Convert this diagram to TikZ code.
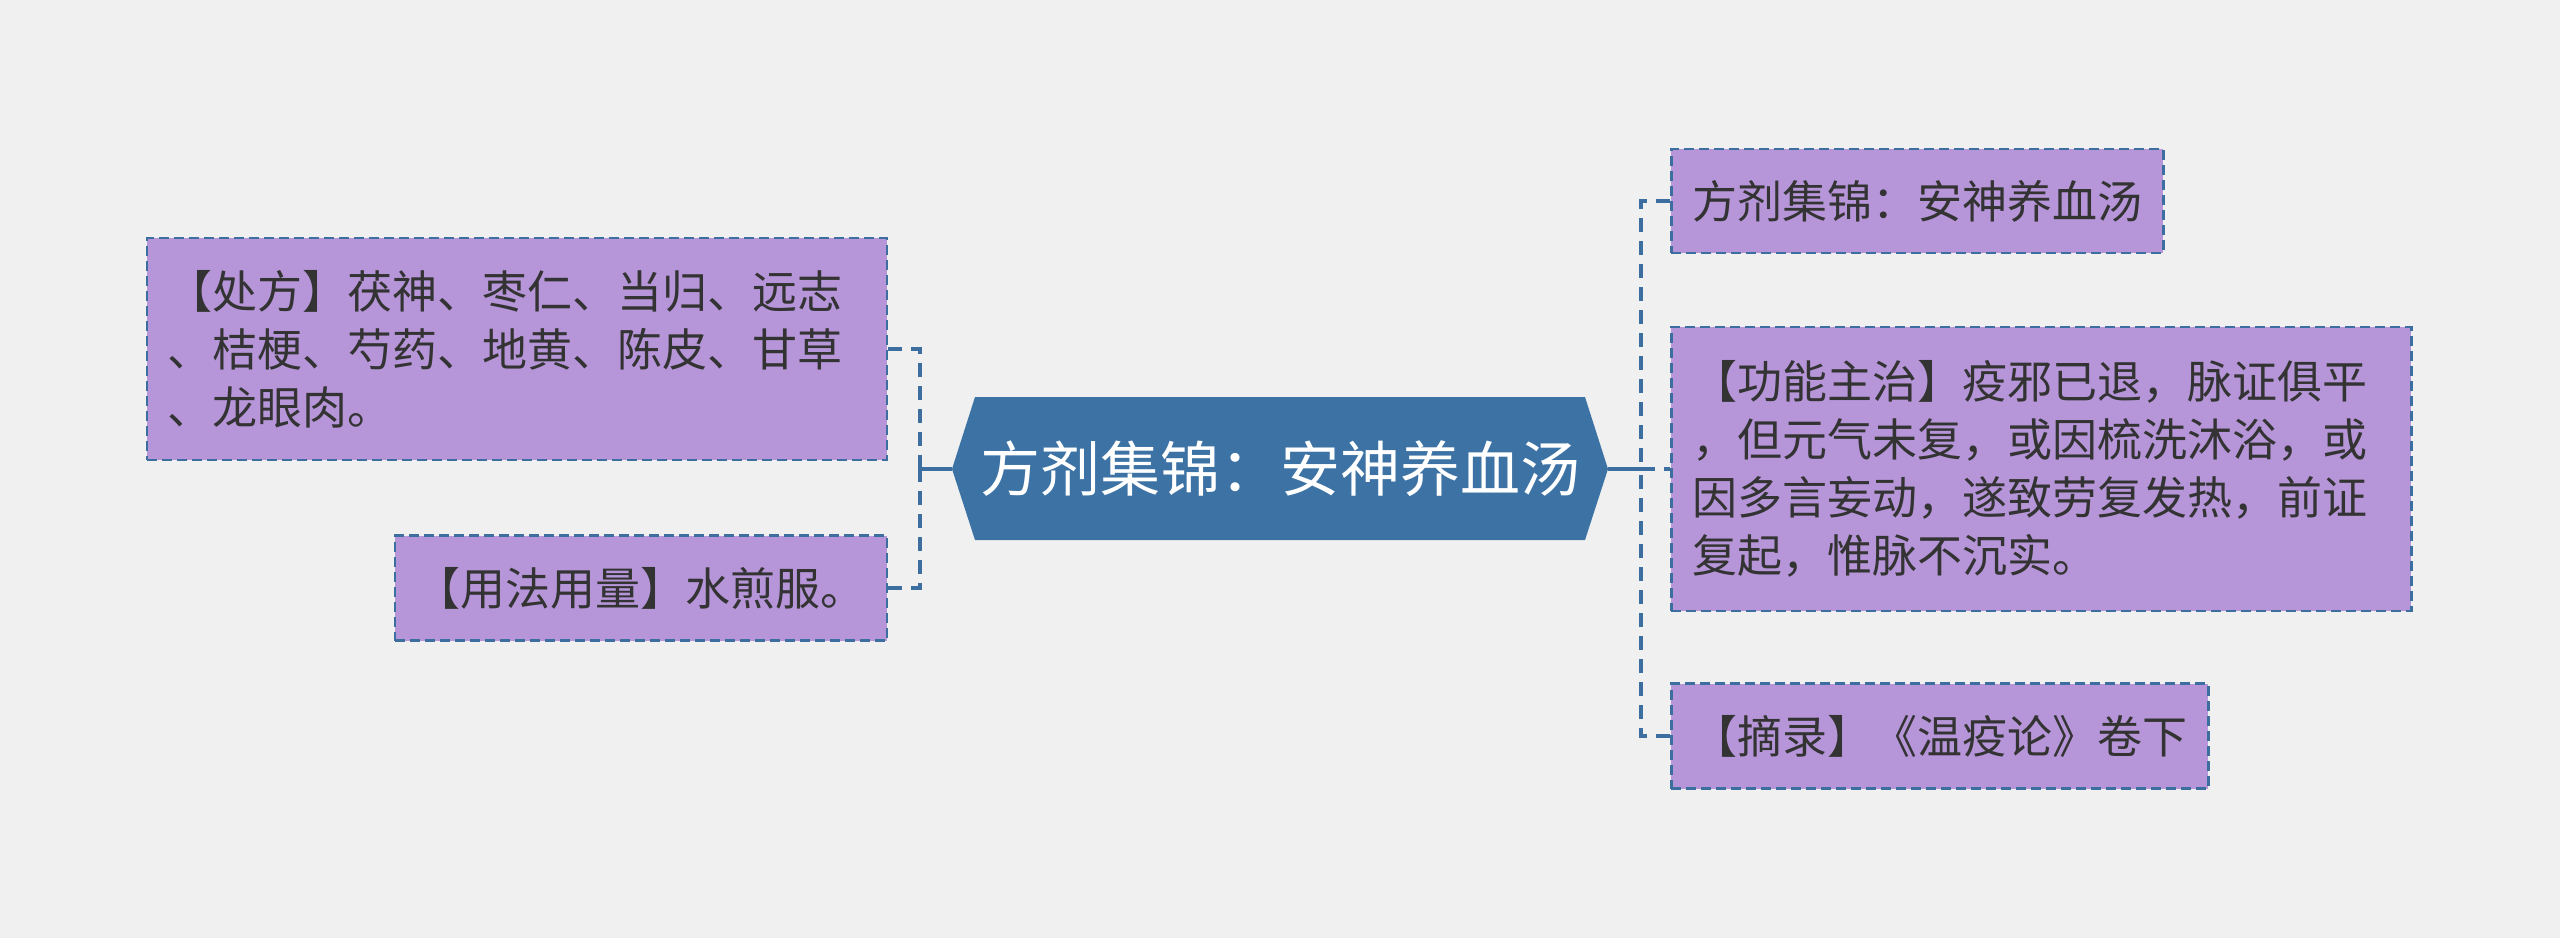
\documentclass[tikz,border=0pt]{standalone}
\usepackage{fontspec}
\setmainfont{Noto Sans CJK SC}
\usetikzlibrary{calc}
\definecolor{bgc}{HTML}{F0F0F0}
\definecolor{boxfill}{HTML}{B696D9}
\definecolor{boxline}{HTML}{3C6E9F}
\definecolor{hexfill}{HTML}{3D72A4}
\definecolor{txt}{HTML}{333333}
\tikzset{
  leaf/.style={rectangle, fill=boxfill, draw=boxline, line width=2.5pt,
    dash pattern=on 10pt off 5pt, inner xsep=21pt, inner ysep=0pt,
    align=left, text=txt, font=\fontsize{45pt}{58pt}\selectfont},
  wide/.style={text width=698pt},
  conn/.style={draw=boxline, line width=4pt, dash pattern=on 14pt off 9pt},
  connsolid/.style={draw=boxline, line width=4pt}
}
\begin{document}
\begin{tikzpicture}[x=1pt,y=-1pt]
\useasboundingbox (0,0) rectangle (2560,938);
\fill[bgc] (0,0) rectangle (2560,938);

% central hexagon
\fill[hexfill] (952,469) -- (975,397) -- (1585,397) -- (1608,469) -- (1585,540) -- (975,540) -- cycle;
\coordinate (cl) at (952,469);
\coordinate (cr) at (1608,469);
\node[text=white, font=\fontsize{60pt}{72pt}\selectfont, inner sep=0pt] (c) at (1280,469) {方剂集锦：安神养血汤};

% left nodes
\node[leaf, wide, anchor=east, minimum height=222pt] (A) at (888,349)
  {【处方】茯神、枣仁、当归、远志\\、桔梗、芍药、地黄、陈皮、甘草\\、龙眼肉。};
\node[leaf, anchor=east, minimum height=105pt] (B) at (888,588)
  {【用法用量】水煎服。};

% right nodes
\node[leaf, anchor=west, minimum height=104pt] (R1) at (1670,201)
  {方剂集锦：安神养血汤};
\node[leaf, wide, anchor=west, minimum height=284pt] (R2) at (1670,469)
  {【功能主治】疫邪已退，脉证俱平\\，但元气未复，或因梳洗沐浴，或\\因多言妄动，遂致劳复发热，前证\\复起，惟脉不沉实。};
\node[leaf, anchor=west, minimum height=105pt] (R3) at (1670,736)
  {【摘录】《温疫论》卷下};

% connectors
\coordinate (lj) at (920,469);
\coordinate (rj) at (1641,469);
\draw[connsolid] (cl) -- (lj);
\draw[connsolid] (cr) -- (rj);
\draw[conn] (A.east) -| (lj);
\draw[conn] (B.east) -| (lj);
\draw[conn] (R1.west) -| (rj);
\draw[conn] (R3.west) -| (rj);
\draw[conn] (rj) -- (R2.west);
\end{tikzpicture}
\end{document}
